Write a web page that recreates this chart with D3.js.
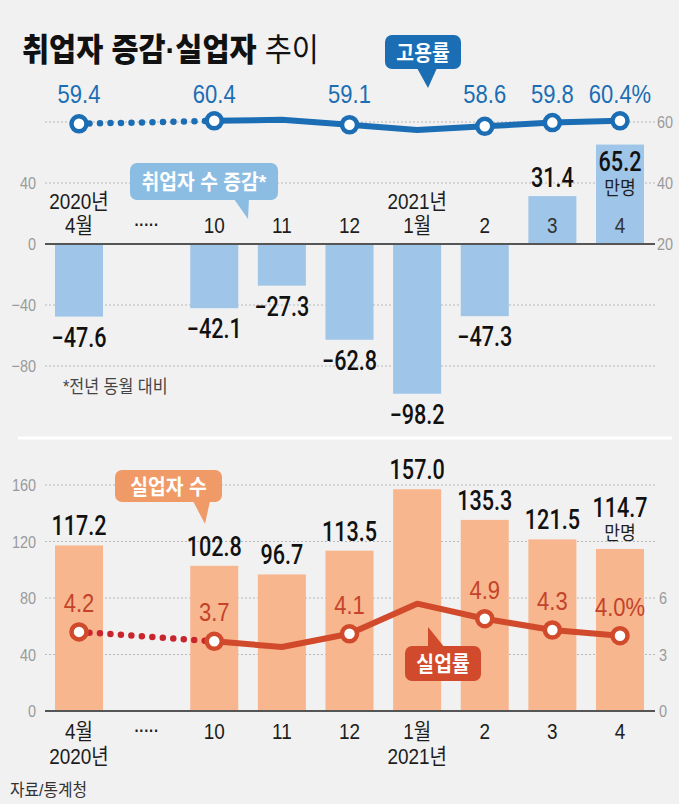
<!DOCTYPE html>
<html><head><meta charset="utf-8">
<script src="https://cdn.jsdelivr.net/npm/d3@7"></script>
<style>
html,body{margin:0;padding:0;background:#f1f1f1;}
svg{display:block;}
text{font-family:"Liberation Sans","Noto Sans CJK KR",sans-serif;}
text.val{font-family:Roboto,"Liberation Sans","Noto Sans CJK KR",sans-serif;}
</style></head>
<body>
<script>
// ---- data ----
const categories = ["4월", "·····", "10", "11", "12", "1월", "2", "3", "4"];
const yearLabels = ["2020년", "", "", "", "", "2021년", "", "", ""];
const employmentChange = [-47.6, null, -42.1, -27.3, -62.8, -98.2, -47.3, 31.4, 65.2];
const employmentRate = [59.4, null, 60.4, 60.7, 59.1, 57.4, 58.6, 59.8, 60.4];
const employmentRateShown = [true, false, true, false, true, false, true, true, true];
const unemployed = [117.2, null, 102.8, 96.7, 113.5, 157.0, 135.3, 121.5, 114.7];
const unemploymentRate = [4.2, null, 3.7, 3.4, 4.1, 5.7, 4.9, 4.3, 4.0];
const unemploymentRateShown = [true, false, true, false, true, false, true, true, true];
const topLeftTicks = [40, 0, -40, -80];
const topRightTicks = [60, 40, 20];
const topGrid = [80, 40, -40, -80];
const botLeftTicks = [160, 120, 80, 40, 0];
const botRightTicks = [6, 3, 0];
const botGrid = [160, 120, 80, 40];
const unitLabel = "만명";

// ---- setup ----
const W = 679, H = 804;
const svg = d3.select("body").append("svg").attr("width", W).attr("height", H);
svg.append("rect").attr("width", W).attr("height", H).attr("fill", "#f1f1f1");

const C = {
  blueLine: "#1b6db4", blueBar: "#9fc5e8", blueBox: "#8bbde3",
  orangeBar: "#f7b68e", orangeBox: "#f09a68", red: "#d14a2b", redText: "#c4432a", redDot: "#c9252c",
  grid: "#b9b9b9", axis: "#555", tick: "#9a9a9a", dark: "#1d1d1d"
};

const idx = categories.map((d, i) => i);
const x = d3.scalePoint().domain(idx).range([79, 620]);
const bw = x.step() * 0.71;
const plotL = 45, plotR = 653;

function txt(g, px, py, s, o) {
  o = o || {};
  return g.append("text")
    .attr("class", o.cls || null)
    .attr("transform", `translate(${px},${py}) scale(${o.sx || 1},1)`)
    .attr("text-anchor", o.anchor || "middle")
    .attr("font-size", o.size || 16)
    .attr("font-weight", o.weight || "normal")
    .attr("fill", o.fill || C.dark)
    .text(s);
}

// ---- title ----
const title = svg.append("text")
  .attr("transform", "translate(22,61) scale(0.92,1)")
  .attr("font-size", 32).attr("fill", "#111");
title.append("tspan").attr("font-weight", 900).text("취업자 증감·실업자");
title.append("tspan").attr("font-weight", "normal").text(" 추이");

// ================= TOP CHART =================
const yL = d3.scaleLinear().domain([-80, 80]).range([366, 122]);
const yR = d3.scaleLinear().domain([20, 60]).range([yL(0), yL(80)]);
const gTop = svg.append("g");

gTop.selectAll(".tg").data(topGrid).join("line")
  .attr("x1", plotL).attr("x2", plotR + 2)
  .attr("y1", d => yL(d)).attr("y2", d => yL(d))
  .attr("stroke", C.grid).attr("stroke-width", 1).attr("stroke-dasharray", "2,2");
topLeftTicks.forEach(v => txt(gTop, 36, yL(v) + 6, v < 0 ? "−" + Math.abs(v) : String(v),
  {anchor: "end", size: 17, fill: C.tick, sx: 0.85}));
topRightTicks.forEach(v => txt(gTop, 657, yR(v) + 6, String(v),
  {anchor: "start", size: 17, fill: C.tick, sx: 0.85}));

gTop.selectAll(".tb").data(idx.filter(i => employmentChange[i] != null)).join("rect")
  .attr("x", i => x(i) - bw / 2).attr("width", bw)
  .attr("y", i => Math.min(yL(0), yL(employmentChange[i])))
  .attr("height", i => Math.abs(yL(employmentChange[i]) - yL(0)))
  .attr("fill", C.blueBar);

gTop.append("line").attr("x1", plotL).attr("x2", plotR + 2)
  .attr("y1", yL(0)).attr("y2", yL(0)).attr("stroke", C.axis).attr("stroke-width", 2);

idx.forEach(i => {
  const isDots = employmentChange[i] == null;
  txt(gTop, x(i), yL(0) - 11 - (isDots ? 3 : 0), categories[i],
    {size: isDots ? 17 : 22, weight: isDots ? "bold" : "normal", fill: employmentChange[i] > 0 ? "#333" : C.dark, sx: 0.86});
  if (yearLabels[i]) txt(gTop, x(i), yL(0) - 35, yearLabels[i], {size: 22, sx: 0.86});
});

const valOpt = {size: 27, sx: 0.8, weight: 500, cls: "val", fill: "#111"};
idx.filter(i => employmentChange[i] != null).forEach(i => {
  const v = employmentChange[i];
  const s = v < 0 ? "−" + Math.abs(v).toFixed(1) : v.toFixed(1);
  if (i === idx.length - 1) {
    txt(gTop, x(i), yL(v) + 26, s, valOpt);
    txt(gTop, x(i), yL(v) + 50, unitLabel, {size: 19, sx: 0.9});
  } else if (v < 0) {
    txt(gTop, x(i), yL(v) + 30, s, valOpt);
  } else {
    txt(gTop, x(i), yL(v) - 9, s, valOpt);
  }
});

const lineTop = d3.line().x(i => x(i)).y(i => yR(employmentRate[i]));
const valid = idx.filter(i => employmentRate[i] != null);
gTop.append("path").attr("d", lineTop([valid[0], valid[1]]))
  .attr("fill", "none").attr("stroke", C.blueLine).attr("stroke-width", 6.5)
  .attr("stroke-linecap", "round").attr("stroke-dasharray", "0,10.5");
gTop.append("path").attr("d", lineTop(valid.slice(1)))
  .attr("fill", "none").attr("stroke", C.blueLine).attr("stroke-width", 6)
  .attr("stroke-linejoin", "round");
gTop.selectAll(".tc").data(idx.filter(i => employmentRateShown[i])).join("circle")
  .attr("cx", i => x(i)).attr("cy", i => yR(employmentRate[i])).attr("r", 7.5)
  .attr("fill", "#fff").attr("stroke", C.blueLine).attr("stroke-width", 4.5);
idx.filter(i => employmentRateShown[i]).forEach((i, k, arr) => {
  txt(gTop, x(i), 103, employmentRate[i].toFixed(1) + (k === arr.length - 1 ? "%" : ""),
    {size: 25, fill: C.blueLine, sx: 0.88});
});

function callout(g, bx, by, w, h, tail, color, label) {
  g.append("rect").attr("x", bx).attr("y", by).attr("width", w).attr("height", h)
    .attr("rx", 7).attr("fill", color);
  g.append("polygon").attr("points", tail.map(p => p.join(",")).join(" ")).attr("fill", color);
  txt(g, bx + w / 2, by + h / 2 + 7.5, label, {size: 21, weight: "bold", fill: "#fff", sx: 0.92});
}
callout(gTop, 385, 35, 76, 34, [[417, 68], [437, 68], [428, 88]], C.blueLine, "고용률");
callout(gTop, 130, 163, 148, 37, [[234, 199], [249, 199], [248, 219]], C.blueBox, "취업자 수 증감*");

txt(gTop, 63, 393, "*전년 동월 대비", {anchor: "start", size: 18, fill: "#444", sx: 0.9});

svg.append("line").attr("x1", 18).attr("x2", 672).attr("y1", 438).attr("y2", 438)
  .attr("stroke", "#fff").attr("stroke-width", 3);

// ================= BOTTOM CHART =================
const bL = d3.scaleLinear().domain([0, 160]).range([711, 485]);
const bR = d3.scaleLinear().domain([0, 6]).range([bL(0), bL(80)]);
const gBot = svg.append("g");

gBot.selectAll(".bg").data(botGrid).join("line")
  .attr("x1", plotL).attr("x2", plotR + 2)
  .attr("y1", d => bL(d)).attr("y2", d => bL(d))
  .attr("stroke", C.grid).attr("stroke-width", 1).attr("stroke-dasharray", "2,2");
botLeftTicks.forEach(v => txt(gBot, 36, bL(v) + 6, String(v),
  {anchor: "end", size: 17, fill: C.tick, sx: 0.85}));
botRightTicks.forEach(v => txt(gBot, 659, bR(v) + 6, String(v),
  {anchor: "start", size: 17, fill: C.tick, sx: 0.85}));

gBot.selectAll(".bb").data(idx.filter(i => unemployed[i] != null)).join("rect")
  .attr("x", i => x(i) - bw / 2).attr("width", bw)
  .attr("y", i => bL(unemployed[i]))
  .attr("height", i => bL(0) - bL(unemployed[i]))
  .attr("fill", C.orangeBar);

gBot.append("line").attr("x1", plotL).attr("x2", plotR + 2)
  .attr("y1", bL(0)).attr("y2", bL(0)).attr("stroke", C.axis).attr("stroke-width", 2);

idx.forEach(i => {
  const isDots = unemployed[i] == null;
  txt(gBot, x(i), bL(0) + 28 - (isDots ? 3 : 0), categories[i],
    {size: isDots ? 17 : 22, weight: isDots ? "bold" : "normal", sx: 0.86});
  if (yearLabels[i]) txt(gBot, x(i), bL(0) + 53, yearLabels[i], {size: 22, sx: 0.86});
});

idx.filter(i => unemployed[i] != null).forEach(i => {
  const v = unemployed[i];
  if (i === idx.length - 1) {
    txt(gBot, x(i), bL(v) - 32, v.toFixed(1), valOpt);
    txt(gBot, x(i), bL(v) - 9, unitLabel, {size: 19, sx: 0.9});
  } else {
    txt(gBot, x(i), bL(v) - 10, v.toFixed(1), valOpt);
  }
});

const lineBot = d3.line().x(i => x(i)).y(i => bR(unemploymentRate[i]));
const validB = idx.filter(i => unemploymentRate[i] != null);
gBot.append("path").attr("d", lineBot([validB[0], validB[1]]))
  .attr("fill", "none").attr("stroke", C.redDot).attr("stroke-width", 6.5)
  .attr("stroke-linecap", "round").attr("stroke-dasharray", "0,10.5");
gBot.append("path").attr("d", lineBot(validB.slice(1)))
  .attr("fill", "none").attr("stroke", C.red).attr("stroke-width", 6)
  .attr("stroke-linejoin", "round");
gBot.selectAll(".bc").data(idx.filter(i => unemploymentRateShown[i])).join("circle")
  .attr("cx", i => x(i)).attr("cy", i => bR(unemploymentRate[i])).attr("r", 7.5)
  .attr("fill", "#fff").attr("stroke", C.red).attr("stroke-width", 4.5);
idx.filter(i => unemploymentRateShown[i]).forEach((i, k, arr) => {
  txt(gBot, x(i), bR(unemploymentRate[i]) - 20, unemploymentRate[i].toFixed(1) + (k === arr.length - 1 ? "%" : ""),
    {size: 25, fill: C.redText, sx: 0.88});
});

callout(gBot, 115, 470, 107, 32, [[193, 501], [210, 501], [205, 524]], C.orangeBox, "실업자 수");
callout(gBot, 405, 646, 76, 35, [[428, 627], [428, 648], [445, 648]], C.red, "실업률");

txt(svg, 10, 796, "자료/통계청", {anchor: "start", size: 17, fill: "#333", sx: 0.93});
</script>
</body></html>
